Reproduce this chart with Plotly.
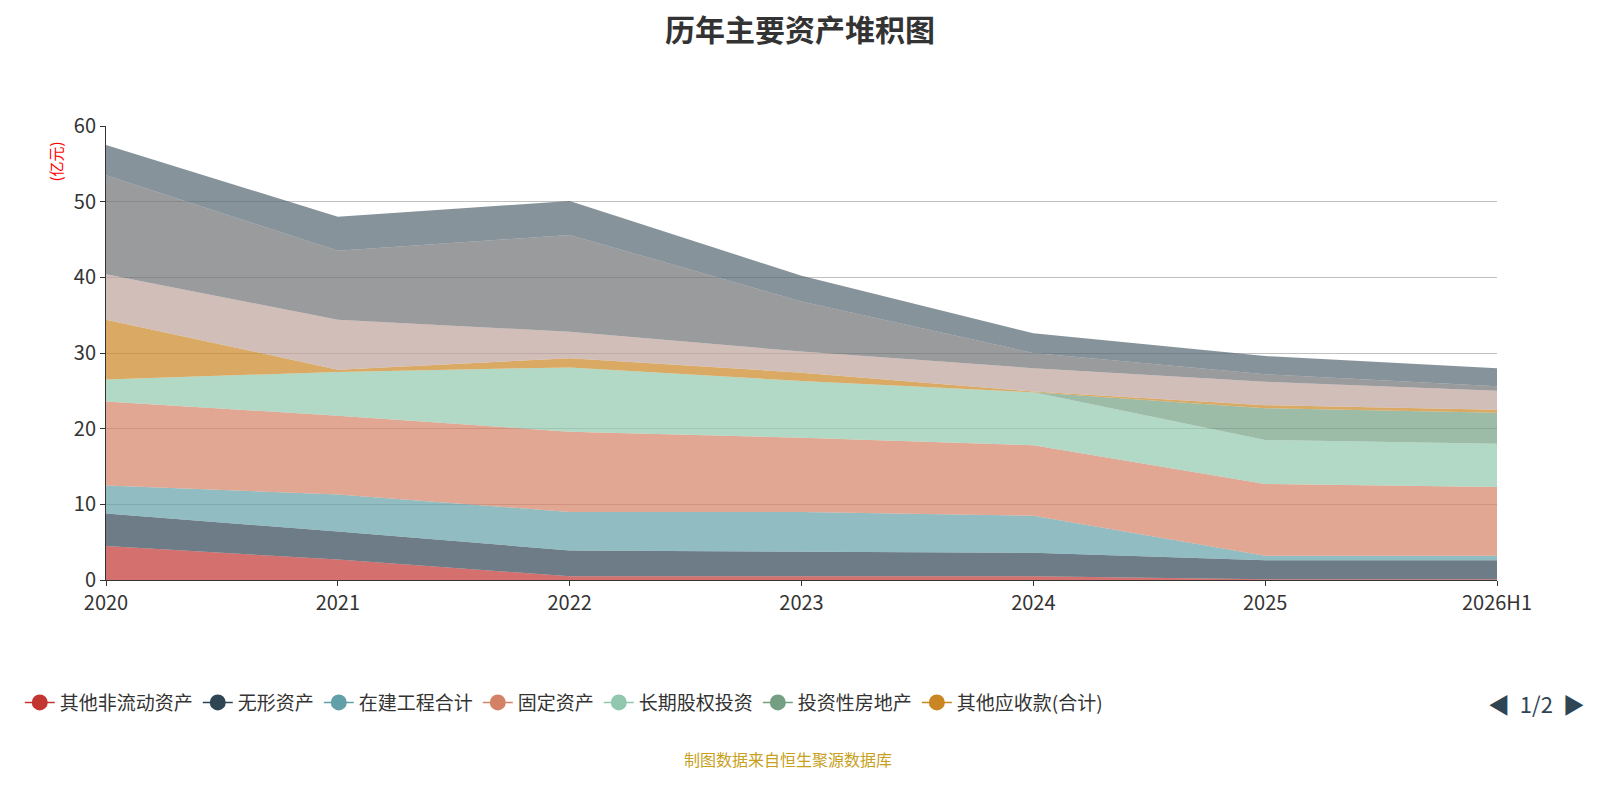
import plotly.graph_objects as go

years = ["2020", "2021", "2022", "2023", "2024", "2025", "2026H1"]

names = ["其他非流动资产", "无形资产", "在建工程合计", "固定资产", "长期股权投资",
         "投资性房地产", "其他应收款(合计)", "预付款项", "存货", "应收账款"]

other_noncurrent = [4.5, 2.7, 0.5, 0.5, 0.5, 0.1, 0.1]
intangible = [4.3, 3.7, 3.4, 3.2, 3.1, 2.5, 2.5]
construction = [3.7, 4.9, 5.1, 5.3, 4.9, 0.6, 0.6]
fixed_assets = [11.1, 10.4, 10.6, 9.8, 9.3, 9.5, 9.1]
lt_equity = [2.9, 5.8, 8.5, 7.5, 7.0, 5.8, 5.7]
invest_property = [0, 0, 0, 0, 0, 4.2, 4.1]
other_recv = [7.9, 0.3, 1.2, 1.1, 0.1, 0.4, 0.4]
prepay = [6.0, 6.6, 3.5, 2.8, 3.1, 3.1, 2.5]
inventory = [13.1, 9.1, 12.8, 6.6, 2.0, 1.0, 0.6]
receivable = [4.0, 4.5, 4.5, 3.4, 2.6, 2.4, 2.4]

series = [other_noncurrent, intangible, construction, fixed_assets, lt_equity,
          invest_property, other_recv, prepay, inventory, receivable]

colors = ["#c23531", "#2f4554", "#61a0a8", "#d48265", "#91c7ae",
          "#749f83", "#ca8622", "#bda29a", "#6e7074", "#546570"]

def rgba(h, a):
    h = h.lstrip("#")
    return "rgba(%d,%d,%d,%s)" % (int(h[0:2], 16), int(h[2:4], 16), int(h[4:6], 16), a)

fig = go.Figure()
for name, vals, c in zip(names, series, colors):
    fig.add_trace(go.Scatter(
        x=years, y=vals, name=name, stackgroup="one", mode="lines",
        line=dict(width=0, color=c), fillcolor=rgba(c, 0.7), showlegend=False))

# legend entries (first page only)
for name, c in zip(names[:7], colors[:7]):
    fig.add_trace(go.Scatter(
        x=[None], y=[None], name=name, mode="lines+markers",
        line=dict(color=c, width=1.5), marker=dict(size=18, color=c)))

fig.update_layout(
    paper_bgcolor="white", plot_bgcolor="white",
    margin=dict(l=91, r=95, t=118, b=212),
    font=dict(family="Noto Sans CJK SC", size=18, color="#333"),
    title=dict(text="<b>历年主要资产堆积图</b>", x=0.5, y=0.985, yanchor="top",
               xanchor="center", font=dict(size=30, color="#333")),
    xaxis=dict(showgrid=False, showline=True, linecolor="#333", ticks="outside",
               tickcolor="#333", range=[0, 6], tickfont=dict(size=20),
               categoryorder="array", categoryarray=years),
    yaxis=dict(range=[0, 60], dtick=10, gridcolor="#c0c0c0", showline=True,
               linecolor="#333", ticks="outside", tickcolor="#333",
               tickfont=dict(size=20), zeroline=False),
    legend=dict(orientation="h", x=-0.062, y=-0.27, xanchor="left", yanchor="middle",
                traceorder="normal", font=dict(size=19, color="#333")),
    annotations=[
        dict(text="(亿元)", xref="paper", yref="paper", x=-0.045, y=0.97,
             textangle=-90, showarrow=False, font=dict(size=15, color="red")),
        dict(text="◀  1/2  ▶", xref="paper", yref="paper", x=1.065, y=-0.27,
             xanchor="right", yanchor="middle", showarrow=False,
             font=dict(size=22, color="#2f4554")),
        dict(text="制图数据来自恒生聚源数据库", xref="paper", yref="paper", x=0.49,
             y=-0.395, yanchor="middle", showarrow=False,
             font=dict(size=16, color="#c8a020")),
    ],
)
fig.write_html("out.html")
